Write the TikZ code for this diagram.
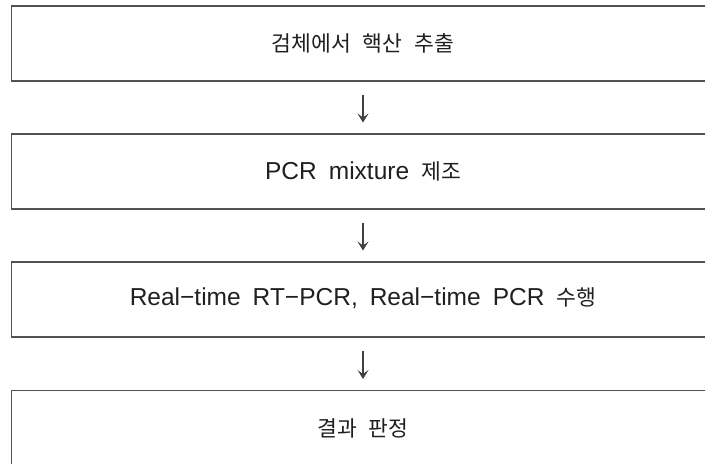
\documentclass[tikz,border=0pt]{standalone}
\usepackage{fontspec}
\setmainfont{Liberation Sans}
\newfontfamily\kr[Scale=0.88]{Noto Sans CJK KR}
\usetikzlibrary{arrows.meta}
\newcommand\widegaps{\spaceskip=12pt\relax}
\begin{document}
\begin{tikzpicture}[x=1pt,y=1pt,
  stepbox/.style={draw=black!68, line width=1.3pt, minimum width=720pt,
    minimum height=75pt, inner sep=0pt, anchor=north west},
  steptext/.style={text=black!88, inner sep=0pt,
    font=\fontsize{24.5}{30}\selectfont, execute at begin node=\widegaps},
  flow/.style={draw=black!75, line width=1.1pt,
    -{Stealth[length=9pt,width=11pt,inset=4pt]}, shorten <=13pt, shorten >=11pt}]
  \useasboundingbox (0,0) rectangle (705,464);
  \clip (0,0) rectangle (705,464);
  % the four steps, open to the right edge
  \node[stepbox] (b1) at (11,458.5) {};
  \node[stepbox] (b2) at (11,330.5) {};
  \node[stepbox] (b3) at (11,202.5) {};
  \node[stepbox] (b4) at (11,74) {};
  % step labels
  \node[steptext] (t1) at (363,421) {\kr 검체에서 핵산 추출};
  \node[steptext] (t2) at (363,293) {PCR mixture {\kr 제조}};
  \node[steptext] (t3) at (363,165.5) {Real−time RT−PCR, Real−time PCR {\kr 수행}};
  \node[steptext] (t4) at (363,36) {\kr 결과 판정};
  % arrows between steps
  \draw[flow] (b1.south -| t1) -- (b2.north -| t1);
  \draw[flow] (b2.south -| t1) -- (b3.north -| t1);
  \draw[flow] (b3.south -| t1) -- (b4.north -| t1);
\end{tikzpicture}
\end{document}
